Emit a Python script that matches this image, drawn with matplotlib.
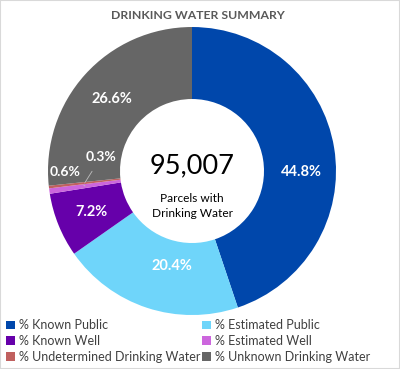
import numpy as np
import matplotlib.pyplot as plt
from matplotlib.patches import Rectangle, Patch

plt.rcParams['font.family'] = ['Lato', 'DejaVu Sans']

# data
categories = ['% Known Public', '% Estimated Public', '% Known Well',
              '% Estimated Well', '% Undetermined Drinking Water',
              '% Unknown Drinking Water']
values = [44.8, 20.4, 7.2, 0.6, 0.3, 26.6]
colors = ['#0047AB', '#6FD5FA', '#6600AA', '#CC66DD', '#C0605F', '#666666']
total_parcels = '95,007'

fig = plt.figure(figsize=(4, 3.69), dpi=100)
fig.patches.append(Rectangle((0, 0), 1, 1, transform=fig.transFigure,
                             fill=False, edgecolor='#D9D9D9', lw=1.5))

ax = fig.add_axes([0.12, 0.1463, 0.72, 0.7805])
wedges, _ = ax.pie(values, colors=colors, startangle=90, counterclock=False,
                   radius=1, wedgeprops=dict(width=0.5, linewidth=0))
ax.set_xlim(-1, 1)
ax.set_ylim(-1, 1)
ax.set_aspect('equal')
ax.axis('off')

# percentage labels on the ring
for i, w in enumerate(wedges):
    mid = np.deg2rad((w.theta1 + w.theta2) / 2)
    x, y = 0.75 * np.cos(mid), 0.75 * np.sin(mid)
    txt = f'{values[i]:.1f}%'
    if values[i] < 1:
        # small slices: label pulled out with a leader line
        if i == 3:
            tx, ty = -0.88, -0.01
        else:
            tx, ty = -0.63, 0.10
        ax.annotate(txt, xy=(x, y), xytext=(tx, ty), ha='center', va='center',
                    color='white', fontsize=10, fontweight='bold',
                    arrowprops=dict(arrowstyle='-', color='#BFBFBF', lw=0.6,
                                    shrinkA=5, shrinkB=0))
    else:
        if i == 0:
            x, y = 0.76, -0.01
        elif i == 1:
            x, y = -0.14, -0.66
        ax.text(x, y, txt, ha='center', va='center', color='white',
                fontsize=10.5, fontweight='bold')

ax.text(0, 0.035, total_parcels, ha='center', va='center', fontsize=19.5,
        color='black')
ax.text(0, -0.24, 'Parcels with\nDrinking Water', ha='center', va='center',
        fontsize=8.6, color='black', linespacing=1.45)

fig.text(0.495, 0.957, 'DRINKING WATER SUMMARY', ha='center', va='center',
         fontsize=8.8, fontweight='bold', color='#595959')

# legend filled row by row like the original
order = [0, 2, 4, 1, 3, 5]
handles = [Patch(facecolor=colors[k], edgecolor='none') for k in order]
labels = [categories[k] for k in order]
fig.legend(handles, labels, ncol=2, loc='lower left',
           bbox_to_anchor=(0.0, 0.0), frameon=False, fontsize=9,
           labelcolor='#404040', handlelength=0.7, handleheight=0.7,
           handletextpad=0.35, columnspacing=0.1, labelspacing=0.3,
           borderaxespad=0.1)

fig.savefig('out.png', dpi=100, facecolor='white')
